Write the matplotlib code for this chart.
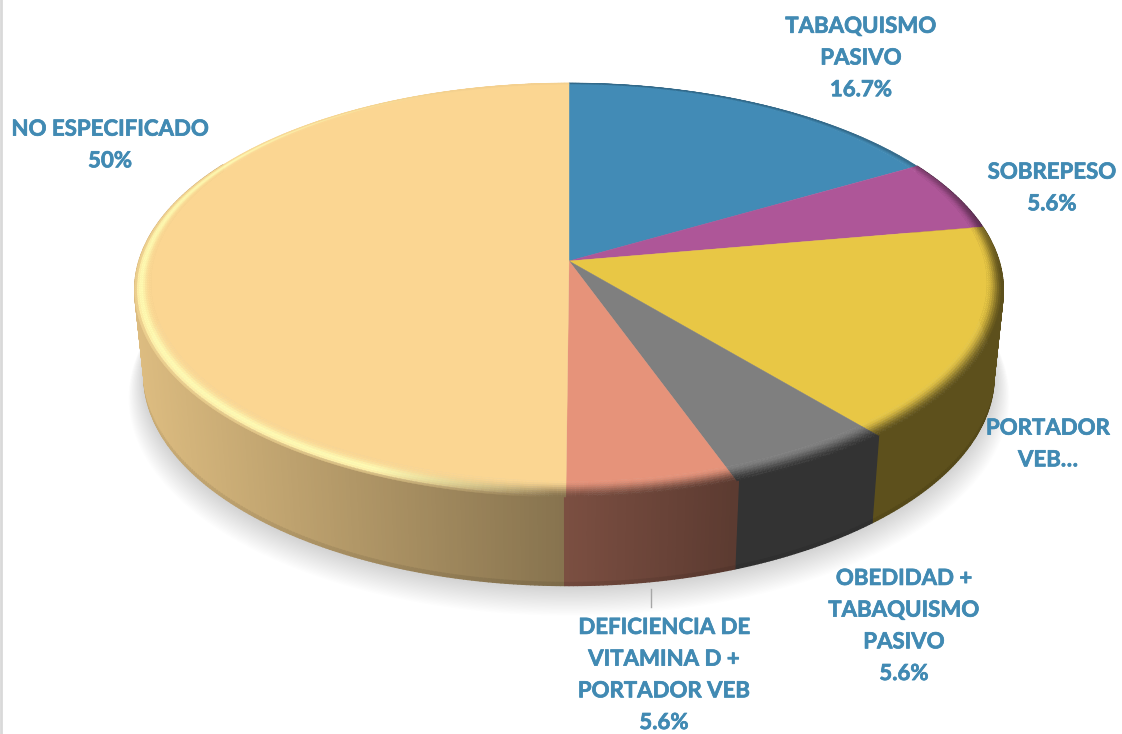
"""Pastel 3D de factores: disco en perspectiva con bisel, pared lateral y sombra."""

import matplotlib

matplotlib.use("Agg")
import matplotlib.patheffects as pe
import matplotlib.pyplot as plt
import numpy as np
from matplotlib.collections import PolyCollection

# ── Datos ─────────────────────────────────────────────────────────────
categorias = [
    "TABAQUISMO\nPASIVO",
    "SOBREPESO",
    "PORTADOR VEB",
    "OBEDIDAD +\nTABAQUISMO\nPASIVO",
    "DEFICIENCIA DE\nVITAMINA D +\nPORTADOR VEB",
    "NO ESPECIFICADO",
]
valores = [16.7, 5.6, 16.7, 5.6, 5.6, 50]
textos_pct = ["16.7%", "5.6%", "", "5.6%", "5.6%", "50%"]
colores = ["#428BB6", "#AE5698", "#E8C745", "#7F7F7F", "#E6937A", "#FBD692"]

# ── Geometría del disco (en píxeles de la figura) ─────────────────────
W, H = 1122, 734
CX, CY = 569, 261
A, B, K = 430, 203, 0.14
CY_BASE, A_BASE, B_BASE = 346, 421, 206
COLOR_TEXTO = "#418AB3"

# centro de cada etiqueta
pos_etiquetas = [(861, 58), (1052, 188), (1048, 444), (904, 626), (664, 675), (110, 145)]


def proyectar(theta, r=1.0):
    """Ángulo (grados, horario desde arriba) a píxeles de la cara superior."""
    t = np.radians(theta)
    u, v = r * np.sin(t), r * np.cos(t)
    w = 1 + K * v
    return CX + A * u / w, CY - B * v / w


def proyectar_base(theta, r=1.0):
    t = np.radians(theta)
    u, v = r * np.sin(t), r * np.cos(t)
    w = 1 + K * v
    return CX + A_BASE * u / w, CY_BASE - B_BASE * v / w


def a_rgb(c):
    return np.array(matplotlib.colors.to_rgb(c))


def factor_pared(x):
    """Oscurecimiento de la pared: más clara a la izquierda."""
    return max(0.40, 0.88 - 0.48 * (x - 135) / 600)


def dibujar_sombra(ax):
    tt = np.arange(0, 360, 1.0)
    n = 22
    for i in range(n, 0, -1):
        x, y = proyectar_base(tt, 1 + 0.0016 * i)
        ax.fill(x, y + 0.5 + 0.9 * i, color="#000000", alpha=0.009, lw=0, zorder=1)


def dibujar_pared(ax, limites):
    polys, cols = [], []
    paso = 0.5
    # de atrás hacia delante, para que tape bien la silueta
    orden = list(np.arange(60, 180, paso)) + list(np.arange(300, 179.9, -paso))
    for th in orden:
        th2 = th + paso
        i = min(np.searchsorted(limites, (th + th2) / 2) - 1, len(colores) - 1)
        base = a_rgb(colores[i])
        x1, y1 = proyectar(th)
        x2, y2 = proyectar(th2)
        x3, y3 = proyectar_base(th2)
        x4, y4 = proyectar_base(th)
        f = factor_pared((x1 + x2) / 2)
        c = base * f
        # franja inferior algo más oscura
        ym1, ym2 = y3 - 3, y4 - 3
        polys.append([(x1, y1), (x2, y2), (x3, ym1), (x4, ym2)])
        cols.append(c)
        polys.append([(x4, ym2), (x3, ym1), (x3, y3), (x4, y4)])
        cols.append(c * 0.92)
    ax.add_collection(
        PolyCollection(polys, facecolors=cols, edgecolors=cols, linewidths=1.0, zorder=2)
    )


def ancho_bisel(theta):
    return 0.034 - 0.024 * np.cos(np.radians(theta))


def brillo(theta):
    return np.clip((theta - 182) / 22, 0, 1) * np.clip((345 - theta) / 45, 0, 1)


def color_bisel(base, theta, t):
    """t: 0 en el borde interior del bisel, 1 en el exterior."""
    x, _ = proyectar(theta)
    frente = np.clip((np.cos(np.radians(theta)) * -1 + 0.45) / 0.5, 0, 1)
    f = factor_pared(x) if frente > 0 else 0.6
    atras = 0.97 if theta > 180 else 0.75
    f = frente * f + (1 - frente) * atras
    oscuro = base * f
    h = brillo(theta)
    luz = np.array([1.0, 0.985, 0.70])
    suave = t * t * (3 - 2 * t)
    c = base + (oscuro - base) * suave
    if h > 0:
        pico = np.exp(-(((t - 0.62) / 0.30) ** 2))
        c_luz = base + (luz - base) * pico
        if t > 0.88:
            c_luz = c_luz + (oscuro - c_luz) * (t - 0.88) / 0.12
        c = c * (1 - h) + c_luz * h
    return c


def dibujar_cara(ax, limites):
    n_bandas = 8
    paso = 0.5
    polys, cols = [], []
    for i, color in enumerate(colores):
        base = a_rgb(color)
        ini, fin = limites[i], limites[i + 1]
        tt = np.arange(ini, fin + paso / 2, paso)
        tt[-1] = fin
        # zona plana
        x, y = proyectar(tt, 1 - ancho_bisel(tt))
        polys.append([(CX, CY)] + list(zip(x, y)))
        cols.append(base)
        # bandas del bisel
        for t0, t1 in zip(tt[:-1], tt[1:]):
            for b in range(n_bandas):
                s0, s1 = b / n_bandas, (b + 1) / n_bandas
                w0, w1 = ancho_bisel(t0), ancho_bisel(t1)
                xa, ya = proyectar(t0, 1 - w0 * (1 - s0))
                xb, yb = proyectar(t1, 1 - w1 * (1 - s0))
                xc, yc = proyectar(t1, 1 - w1 * (1 - s1))
                xd, yd = proyectar(t0, 1 - w0 * (1 - s1))
                polys.append([(xa, ya), (xb, yb), (xc, yc), (xd, yd)])
                cols.append(color_bisel(base, (t0 + t1) / 2, (s0 + s1) / 2))
    ax.add_collection(
        PolyCollection(polys, facecolors=cols, edgecolors=cols, linewidths=0.3, zorder=3)
    )


def main():
    plt.rcParams["font.family"] = ["Lato", "DejaVu Sans"]
    fig = plt.figure(figsize=(W / 100, H / 100), dpi=100)
    ax = fig.add_axes([0, 0, 1, 1])
    ax.set_xlim(0, W)
    ax.set_ylim(H, 0)
    ax.axis("off")

    # cada límite acumulado, en grados, desde las 12 en sentido horario
    limites = np.concatenate([[0], np.cumsum(valores)]) / np.sum(valores) * 360

    dibujar_sombra(ax)
    dibujar_pared(ax, limites)
    dibujar_cara(ax, limites)

    # borde izquierdo del área del gráfico
    ax.plot([1, 1], [0, H], color="#D9D9D9", lw=2, zorder=1)
    # línea guía de la etiqueta inferior
    ax.plot([651, 651], [589, 607], color="#A6A6A6", lw=1, zorder=4)

    for cat, pct, (x, y) in zip(categorias, textos_pct, pos_etiquetas):
        texto = f"{cat}\n{pct}" if pct else "PORTADOR\nVEB…"
        ax.text(
            x, y, texto, ha="center", va="center", color=COLOR_TEXTO,
            fontsize=16, fontweight="bold", linespacing=1.63, zorder=5,
            path_effects=[pe.withStroke(linewidth=0.5, foreground=COLOR_TEXTO)],
        )

    fig.savefig("out.png", dpi=100)
    plt.close(fig)


if __name__ == "__main__":
    main()
